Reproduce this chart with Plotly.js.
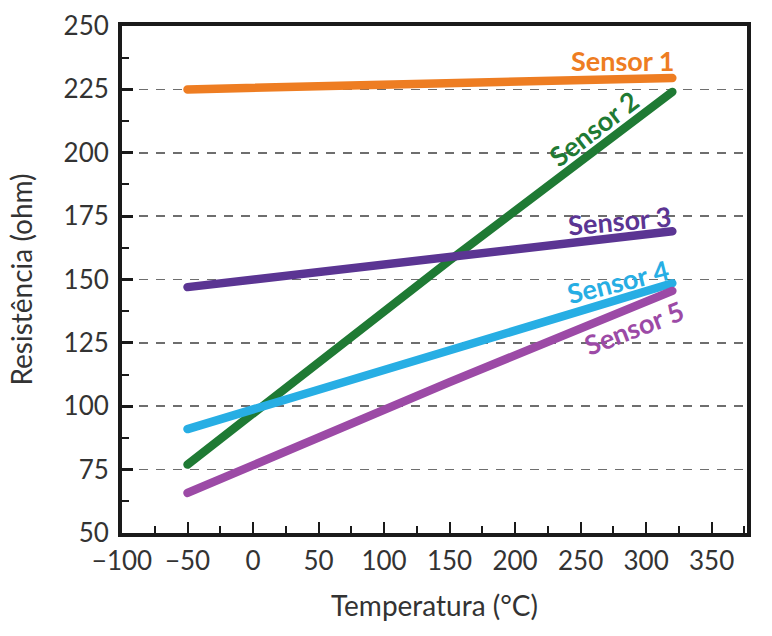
<!DOCTYPE html>
<html>
<head>
<meta charset="utf-8">
<script src="https://cdn.plot.ly/plotly-3.0.1.min.js"></script>
<style>html,body{margin:0;padding:0;background:#fff;}#chart{width:772px;height:636px;}</style>
</head>
<body>
<div id="chart"></div>
<script>
// Data
const sensorNames = ["Sensor 1", "Sensor 2", "Sensor 3", "Sensor 4", "Sensor 5"];
const tempX = [-50, 150, 320];
const sensor1 = [225, 227.3, 229.5];
const sensor2 = [77, 157.5, 224];
const sensor3 = [147, 159, 169];
const sensor4 = [91, 122, 148.5];
const sensor5 = [65.8, 109.5, 145.5];
const yTickVals = [50, 75, 100, 125, 150, 175, 200, 225, 250];
const xTickVals = [-100, -50, 0, 50, 100, 150, 200, 250, 300, 350];

const series = [sensor1, sensor2, sensor3, sensor4, sensor5];
const colors = ["#ee7d22", "#1f7a34", "#5b3593", "#27aee4", "#9c4aa6"];
// label placement (x, y, angle)
const labelPos = [[282.5, 236.5, 0], [260, 209.5, -37.5], [280, 173.2, -5], [278.6, 149.4, -14], [291, 131.2, -21]];

const traces = series.map((ys, i) => ({
  x: tempX, y: ys, type: "scatter", mode: "lines", name: sensorNames[i],
  line: {color: colors[i], width: 8.5}, hoverinfo: "skip"
}));

const annotations = sensorNames.map((n, i) => ({
  x: labelPos[i][0], y: labelPos[i][1], xref: "x", yref: "y", text: n,
  showarrow: false, textangle: labelPos[i][2],
  font: {family: "Lato, 'Open Sans', sans-serif", size: 27, color: colors[i], weight: 700}
}));

const tickFont = {family: "Lato, 'Open Sans', sans-serif", size: 26, color: "#333"};
const layout = {
  width: 772, height: 636,
  margin: {l: 122, r: 25, t: 26, b: 103},
  paper_bgcolor: "#fff", plot_bgcolor: "#fff",
  showlegend: false,
  font: {family: "Lato, 'Open Sans', sans-serif", color: "#333"},
  xaxis: {
    range: [-100, 377], tickvals: xTickVals, tickfont: tickFont,
    ticks: "inside", ticklen: 11, tickwidth: 2, tickcolor: "#1a1a1a",
    minor: {ticks: "inside", ticklen: 7, tickwidth: 2, tickcolor: "#1a1a1a", dtick: 25, tick0: 0, showgrid: false},
    showline: true, linewidth: 4, linecolor: "#1a1a1a", mirror: true,
    showgrid: false, zeroline: false, ticklabelstandoff: 2,
    title: {text: "Temperatura (°C)", font: {family: "Lato, 'Open Sans', sans-serif", size: 28, color: "#333"}, standoff: 22}
  },
  yaxis: {
    range: [50, 250], tickvals: yTickVals, tickfont: tickFont,
    ticks: "inside", ticklen: 11, tickwidth: 3, tickcolor: "#1a1a1a",
    minor: {ticks: "inside", ticklen: 7, tickwidth: 2, tickcolor: "#1a1a1a", dtick: 12.5, tick0: 0, showgrid: false},
    showline: true, linewidth: 4, linecolor: "#1a1a1a", mirror: true,
    showgrid: true, gridcolor: "#6e6e6e", gridwidth: 1.6, griddash: "9px,8px",
    zeroline: false, ticklabelstandoff: 4,
    title: {text: "Resistência (ohm)", font: {family: "Lato, 'Open Sans', sans-serif", size: 28, color: "#333"}, standoff: 24}
  },
  annotations: annotations
};

Plotly.newPlot("chart", traces, layout, {staticPlot: true}).then(() => {
  document.querySelectorAll(".scatterlayer path.js-line").forEach(p => {
    p.style.strokeLinecap = "round";
  });
});
</script>
</body>
</html>
